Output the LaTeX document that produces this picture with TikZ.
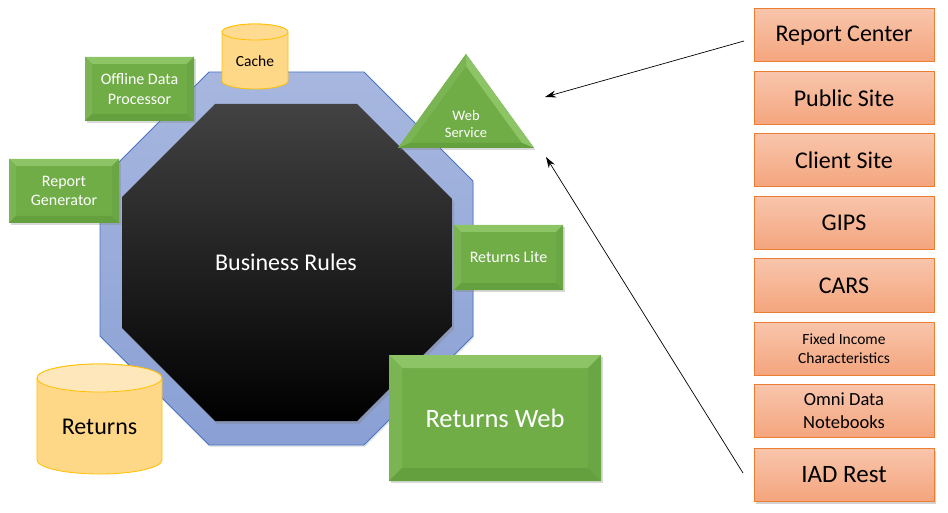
\documentclass[tikz,border=0pt]{standalone}
\usepackage{fontspec}
\setmainfont{Carlito}
\usetikzlibrary{arrows.meta,shadows}
\definecolor{gmain}{HTML}{70AD47}
\definecolor{gtop}{HTML}{8CC466}
\definecolor{gleft}{HTML}{7BB553}
\definecolor{gright}{HTML}{6AA643}
\definecolor{gbot}{HTML}{64A03D}
\definecolor{obord}{HTML}{ED7D31}
\definecolor{otop}{HTML}{F8C5AC}
\definecolor{obot}{HTML}{F4A57D}
\definecolor{blueA}{HTML}{A7B7DF}
\definecolor{blueB}{HTML}{8AA0D4}
\definecolor{blueE}{HTML}{4A74C4}
\definecolor{cylbody}{HTML}{FFD887}
\definecolor{cyltop}{HTML}{FFE7BC}
\definecolor{cylbord}{HTML}{FFC000}
\tikzset{
  bev/.style={path picture={
    \fill[gtop] (path picture bounding box.north west) -- (path picture bounding box.north east)
      -- ([shift={(-#1,-#1)}]path picture bounding box.north east) -- ([shift={(#1,-#1)}]path picture bounding box.north west) -- cycle;
    \fill[gleft] (path picture bounding box.north west) -- ([shift={(#1,-#1)}]path picture bounding box.north west)
      -- ([shift={(#1,#1)}]path picture bounding box.south west) -- (path picture bounding box.south west) -- cycle;
    \fill[gright] (path picture bounding box.north east) -- ([shift={(-#1,-#1)}]path picture bounding box.north east)
      -- ([shift={(-#1,#1)}]path picture bounding box.south east) -- (path picture bounding box.south east) -- cycle;
    \fill[gbot] (path picture bounding box.south west) -- ([shift={(#1,#1)}]path picture bounding box.south west)
      -- ([shift={(-#1,#1)}]path picture bounding box.south east) -- (path picture bounding box.south east) -- cycle;
  }},
  gbox/.style={fill=gmain, inner sep=0pt, text=white, align=center,
    drop shadow={shadow xshift=2pt, shadow yshift=-2pt, opacity=0.3}},
  obox/.style={draw=obord, line width=1pt, top color=otop, bottom color=obot,
    minimum width=180pt, minimum height=53pt, inner sep=0pt, align=center},
  arr/.style={-{Stealth[length=11pt,width=7pt]}, line width=0.7pt, black},
  cyl/.style={fill=cylbody, draw=cylbord, line width=0.8pt},
}
\begin{document}
\begin{tikzpicture}[x=1pt,y=-1pt]
\useasboundingbox (0,0) rectangle (948,513);
% outer octagon
\path[top color=blueA, bottom color=blueB, draw=blueE, line width=0.8pt,
  drop shadow={shadow xshift=1pt, shadow yshift=-2pt, opacity=0.2}]
  (209,72) -- (364,72) -- (473,181) -- (473,336) -- (364,445) -- (209,445) -- (100,336) -- (100,181) -- cycle;
% inner octagon
\path[shading=axis, top color=black!74, middle color=black!95, bottom color=black,
  drop shadow={shadow xshift=2pt, shadow yshift=-3pt, opacity=0.35}]
  (215,104) -- (357,104) -- (452,199) -- (452,326) -- (357,421) -- (215,421) -- (122,328) -- (122,197) -- cycle;
\node[text=white, font=\fontsize{24}{28}\selectfont] (br) at (286,262) {Business Rules};

% green boxes
\node[gbox, bev=7pt, minimum width=109pt, minimum height=64pt, font=\fontsize{16}{19.5}\selectfont] (odp) at (139.5,89) {Offline Data\\Processor};
\node[gbox, bev=7pt, minimum width=110pt, minimum height=64pt, font=\fontsize{16}{19.5}\selectfont] (rg) at (64,191) {Report\\Generator};
\node[gbox, bev=7pt, minimum width=109pt, minimum height=65pt, font=\fontsize{16}{19}\selectfont] (rl) at (508.5,257.5) {Returns Lite};
\node[gbox, bev=13pt, minimum width=212pt, minimum height=126pt, font=\fontsize{26.5}{31}\selectfont] (rw) at (495,418) {Returns Web};

% cache cylinder
\path[cyl] (222,32) -- (222,81) arc[start angle=180, end angle=360, x radius=33pt, y radius=8pt]
  -- (288,32) arc[start angle=0, end angle=180, x radius=33pt, y radius=8pt] -- cycle;
\path[cyl, fill=cylbody!80!cyltop] (255,32) ellipse[x radius=33pt, y radius=8pt];
\node[font=\fontsize{15.5}{18}\selectfont] (cache) at (255,61) {Cache};

% returns cylinder
\path[cyl] (37,378) -- (37,460) arc[start angle=180, end angle=360, x radius=62.5pt, y radius=14pt]
  -- (162,378) arc[start angle=0, end angle=180, x radius=62.5pt, y radius=14pt] -- cycle;
\path[cyl, fill=cyltop] (99.5,378) ellipse[x radius=62.5pt, y radius=14pt];
\node[font=\fontsize{24}{28}\selectfont] (ret) at (99.5,427) {Returns};

% web service triangle
\path[fill=gmain, drop shadow={shadow xshift=1.5pt, shadow yshift=-2pt, opacity=0.3}]
  (466,54) -- (534,148) -- (398,148) -- cycle;
\fill[gtop] (466,54) -- (534,148) -- (522,143) -- (466,66) -- cycle;
\fill[gleft] (466,54) -- (466,66) -- (410,143) -- (398,148) -- cycle;
\fill[gbot] (398,148) -- (534,148) -- (522,143) -- (410,143) -- cycle;
\node[text=white, align=center, font=\fontsize{14.5}{17}\selectfont] (ws) at (466,124) {Web\\Service};

% right column
\node[obox, font=\fontsize{24}{28}\selectfont] (rc) at (844,35.5) {Report Center};
\node[obox, font=\fontsize{24}{28}\selectfont] (ps) at (844,98.5) {Public Site};
\node[obox, font=\fontsize{24}{28}\selectfont] (cs) at (844,160.5) {Client Site};
\node[obox, font=\fontsize{24}{28}\selectfont] (gips) at (844,223) {GIPS};
\node[obox, font=\fontsize{24}{28}\selectfont] (cars) at (844,285.5) {CARS};
\node[obox, font=\fontsize{15.5}{19}\selectfont] (fic) at (844,348.5) {Fixed Income\\Characteristics};
\node[obox, font=\fontsize{18.5}{23}\selectfont] (omni) at (844,411) {Omni Data\\Notebooks};
\node[obox, font=\fontsize{25}{29}\selectfont, drop shadow={shadow xshift=2pt, shadow yshift=-3pt, opacity=0.35}] (iad) at (844,474.5) {IAD Rest};

% arrows
\coordinate (a1s) at (744,41);
\coordinate (a1e) at (545,97);
\coordinate (a2s) at (743,473);
\coordinate (a2e) at (546,157);
\draw[arr] (a1s) -- (a1e);
\draw[arr] (a2s) -- (a2e);
\end{tikzpicture}
\end{document}
